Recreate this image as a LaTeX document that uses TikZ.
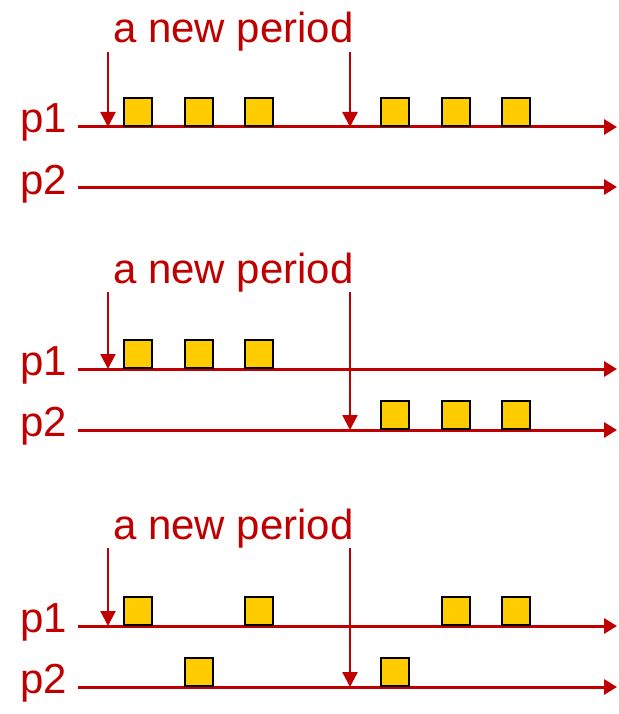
\documentclass[tikz,border=0pt]{standalone}
\usepackage{fontspec}
\setmainfont{Liberation Sans}
\usetikzlibrary{arrows.meta}
\definecolor{timeline}{HTML}{C00000}
\definecolor{slot}{HTML}{FFCC00}
\tikzset{
  axis/.style={draw=timeline, line width=3pt, -{Triangle[length=13pt,width=15pt]}},
  marker/.style={draw=timeline, line width=2.2pt, -{Triangle[length=15pt,width=15pt]}},
  slotbox/.style={draw=black, fill=slot, line width=2.5pt, minimum size=28pt, inner sep=0pt},
  lbl/.style={text=timeline, font=\fontsize{42}{42}\selectfont, inner sep=0pt, anchor=base west},
}
\begin{document}
\begin{tikzpicture}[x=1pt,y=-1pt]
\useasboundingbox (0,0) rectangle (618,714);

% ---------- first schedule: both periods on p1 ----------
\node[lbl] (t1) at (113,43) {a new period};
\node[lbl] (l1a) at (20,133) {p1};
\node[lbl] (l1b) at (20,194) {p2};
\coordinate (s1a) at (78,127);  \coordinate (e1a) at (617,127);
\coordinate (s1b) at (78,187);  \coordinate (e1b) at (617,187);
\draw[axis] (s1a) -- (e1a);
\draw[axis] (s1b) -- (e1b);
\coordinate (m1a) at (108,52);  \coordinate (m1b) at (350,52);
\draw[marker] (m1a) -- (m1a |- s1a);
\draw[marker] (m1b) -- (m1b |- s1a);
\foreach \x/\k in {138/1,199/2,259/3,395/4,456/5,516/6}
  \node[slotbox] (q1-\k) at (\x,112) {};

% ---------- second schedule: second period moves to p2 ----------
\node[lbl] (t2) at (113,283) {a new period};
\node[lbl] (l2a) at (20,375) {p1};
\node[lbl] (l2b) at (20,436) {p2};
\coordinate (s2a) at (78,369);  \coordinate (e2a) at (617,369);
\coordinate (s2b) at (78,430);  \coordinate (e2b) at (617,430);
\draw[axis] (s2a) -- (e2a);
\draw[axis] (s2b) -- (e2b);
\coordinate (m2a) at (108,292); \coordinate (m2b) at (350,292);
\draw[marker] (m2a) -- (m2a |- s2a);
\draw[marker] (m2b) -- (m2b |- s2b);
\foreach \x/\k in {138/1,199/2,259/3}
  \node[slotbox] (q2-\k) at (\x,354) {};
\foreach \x/\k in {395/4,456/5,516/6}
  \node[slotbox] (q2-\k) at (\x,415) {};

% ---------- third schedule: jobs spread over p1 and p2 ----------
\node[lbl] (t3) at (113,539) {a new period};
\node[lbl] (l3a) at (20,632) {p1};
\node[lbl] (l3b) at (20,693) {p2};
\coordinate (s3a) at (78,626);  \coordinate (e3a) at (617,626);
\coordinate (s3b) at (78,687);  \coordinate (e3b) at (617,687);
\draw[axis] (s3a) -- (e3a);
\draw[axis] (s3b) -- (e3b);
\coordinate (m3a) at (108,548); \coordinate (m3b) at (350,548);
\draw[marker] (m3a) -- (m3a |- s3a);
\draw[marker] (m3b) -- (m3b |- s3b);
\foreach \x/\k in {138/1,259/3,456/5,516/6}
  \node[slotbox] (q3-\k) at (\x,611) {};
\foreach \x/\k in {199/2,395/4}
  \node[slotbox] (q3-\k) at (\x,672) {};
\end{tikzpicture}
\end{document}
